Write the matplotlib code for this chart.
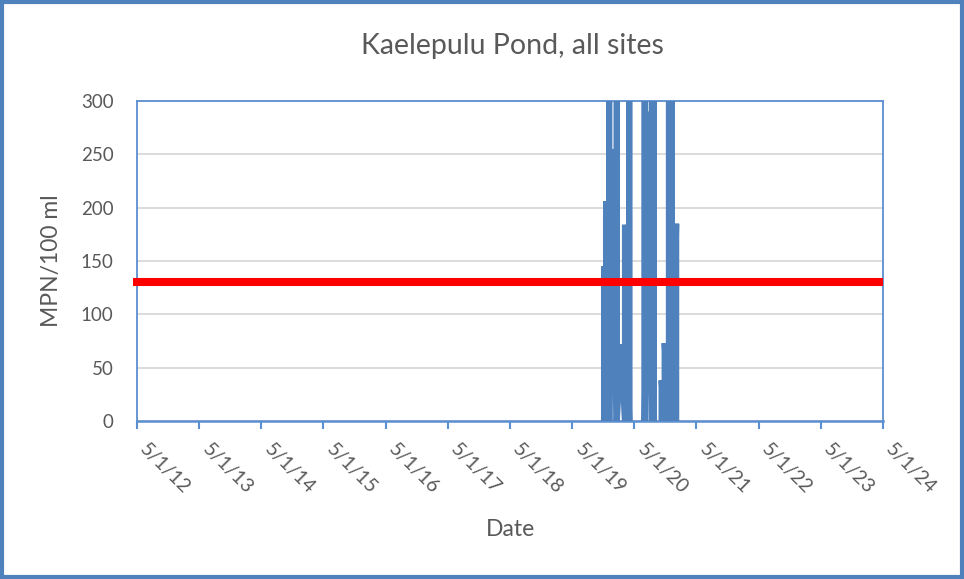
import matplotlib
matplotlib.use("Agg")
import matplotlib.pyplot as plt
import matplotlib.dates as mdates
from matplotlib.patches import Rectangle
from matplotlib.ticker import FuncFormatter, MultipleLocator
import numpy as np

# enterococcus samples (MPN/100 ml), all sites, sorted by date
# values above 300 run off the top of the axis
dates_a = ["2019-11-05", "2019-11-05", "2019-11-17", "2019-11-17", "2019-12-05",
           "2019-12-05", "2019-12-05", "2019-12-28", "2020-01-19", "2020-01-19",
           "2020-01-19", "2020-02-13", "2020-03-07", "2020-03-07", "2020-04-01",
           "2020-04-01", "2020-04-01"]
mpn_a = [0, 145, 0, 206, 0, 2420, 0, 255, 0, 1733, 0, 72, 0, 184, 0, 866, 0]

dates_b = ["2020-07-01", "2020-07-01", "2020-07-01", "2020-07-22", "2020-08-12",
           "2020-08-12", "2020-08-12", "2020-08-24", "2020-08-24", "2020-08-24"]
mpn_b = [0, 1046, 0, 290, 0, 2420, 0, 0, 613, 0]

dates_c = ["2020-10-08", "2020-10-08", "2020-10-26", "2020-10-26", "2020-11-20",
           "2020-11-20", "2020-12-08", "2020-12-08", "2021-01-02", "2021-01-02"]
mpn_c = [0, 38, 0, 73, 0, 1986, 2420, 0, 185, 0]

standard = 130  # single sample standard
x_start, x_end = "2012-05-01", "2024-05-01"

blue = "#4F81BD"
axis_blue = "#5B8FD0"
grey_text = "#595959"

plt.rcParams["font.family"] = ["Lato", "DejaVu Sans"]

fig = plt.figure(figsize=(9.64, 5.79), dpi=100)
ax = fig.add_axes([137 / 964, 1 - 421 / 579, 746 / 964, 320 / 579])

for d, v in [(dates_a, mpn_a), (dates_b, mpn_b), (dates_c, mpn_c)]:
    ax.plot(np.array(d, dtype="datetime64[D]"), v, color=blue, lw=4.4,
            solid_joinstyle="miter", zorder=3)

ax.plot([-4 / 746, 1], [standard, standard], color="#FF0000", lw=5.8,
        solid_capstyle="butt", transform=ax.get_yaxis_transform(),
        clip_on=False, zorder=4)

ax.set_xlim(np.datetime64(x_start), np.datetime64(x_end))
ax.set_ylim(0, 300)
ax.yaxis.set_major_locator(MultipleLocator(50))
ax.xaxis.set_major_locator(mdates.YearLocator(month=5, day=1))
ax.xaxis.set_major_formatter(FuncFormatter(
    lambda x, pos: "{0}/{1}/{2:%y}".format(mdates.num2date(x).month,
                                           mdates.num2date(x).day,
                                           mdates.num2date(x))))

ax.grid(axis="y", color="#D9D9D9", lw=1.3, zorder=0)
ax.set_axisbelow(True)
for s in ax.spines.values():
    s.set_color(axis_blue)
    s.set_linewidth(1.3)
ax.spines["bottom"].set_linewidth(1.8)

ax.tick_params(axis="y", length=0, pad=17, labelsize=13.5, labelcolor=grey_text)
ax.tick_params(axis="x", direction="out", length=6, width=1.5, color=axis_blue,
               pad=8, labelsize=14, labelcolor=grey_text)
for lab in ax.get_xticklabels():
    lab.set_rotation(-45)
    lab.set_ha("left")
    lab.set_va("top")

ax.set_xlabel("Date", fontsize=16.5, color=grey_text, va="center")
ax.xaxis.set_label_coords(0.5013, (421 - 530) / 320)
ax.set_ylabel("MPN/100 ml", fontsize=16.5, color=grey_text, va="center")
ax.yaxis.set_label_coords((52 - 137) / 746, 0.5)
fig.text(512 / 964, 1 - 46 / 579, "Kaelepulu Pond, all sites", ha="center",
         va="center", fontsize=20.5, color=grey_text)

fig.patches.append(Rectangle((2 / 964, 2 / 579), 960 / 964, 575 / 579,
                             transform=fig.transFigure, fill=False,
                             edgecolor=blue, lw=3))

fig.savefig("out.png", dpi=100)
